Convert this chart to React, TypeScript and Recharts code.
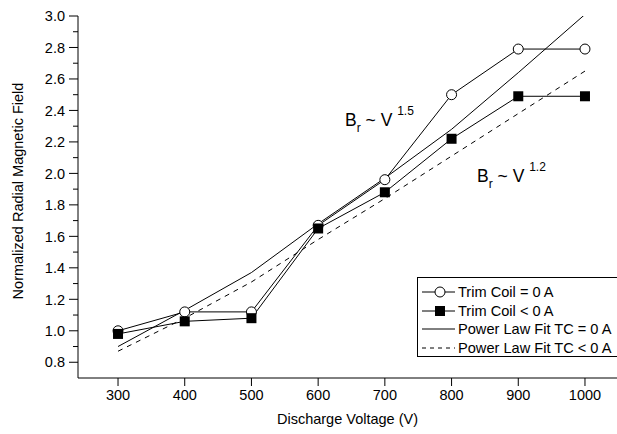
import { Legend, Line, LineChart, XAxis, YAxis } from "recharts";

// Discharge voltage (V) at each measurement
const voltage = [300, 400, 500, 600, 700, 800, 900, 1000];
// Normalized radial field, trim coil off and trim coil negative
const trimCoilZero = [1.0, 1.12, 1.12, 1.67, 1.96, 2.5, 2.79, 2.79];
const trimCoilNeg = [0.98, 1.06, 1.08, 1.65, 1.88, 2.22, 2.49, 2.49];
// Power law fits evaluated at the same voltages
const fitZero = [0.9, 1.13, 1.37, 1.68, 1.97, 2.28, 2.64, 3.01];
const fitNeg = [0.87, 1.08, 1.31, 1.58, 1.84, 2.11, 2.38, 2.65];

const xTicks = [300, 400, 500, 600, 700, 800, 900, 1000];
const yTicks = [
  0.8, 0.9, 1.0, 1.1, 1.2, 1.3, 1.4, 1.5, 1.6, 1.7, 1.8, 1.9, 2.0, 2.1, 2.2, 2.3, 2.4, 2.5, 2.6,
  2.7, 2.8, 2.9, 3.0,
];

const rows = voltage.map((v, i) => ({
  v,
  tc0: trimCoilZero[i],
  tcNeg: trimCoilNeg[i],
  fit0: fitZero[i],
  fitNeg: fitNeg[i],
}));

const FONT = "'Liberation Sans', Arial, sans-serif";

function YTick(props: any) {
  const { x, y, payload } = props;
  const major = Math.round(payload.value * 10) % 2 === 0;
  return (
    <g>
      <line x1={major ? x + 4 : x + 8} x2={x + 13} y1={y} y2={y} stroke="#000" strokeWidth={1} />
      {major ? (
        <text x={x} y={y} dy="0.36em" textAnchor="end" fontSize={14.5} fontFamily={FONT} fill="#000">
          {payload.value.toFixed(1)}
        </text>
      ) : null}
    </g>
  );
}

function SquareDot(props: any) {
  const { cx, cy, index } = props;
  if (cx == null || cy == null) return null;
  return <rect key={`sq-${index}`} x={cx - 5} y={cy - 5} width={10} height={10} fill="#000" />;
}

function LegendBox() {
  const items = [
    { label: "Trim Coil = 0 A", marker: "circle", dash: undefined },
    { label: "Trim Coil < 0 A", marker: "square", dash: undefined },
    { label: "Power Law Fit TC = 0 A", marker: null, dash: undefined },
    { label: "Power Law Fit TC < 0 A", marker: null, dash: "4 4" },
  ];
  return (
    <div
      style={{
        boxSizing: "border-box",
        width: 215,
        height: 80,
        border: "1px solid #000",
        background: "#fff",
        paddingTop: 5,
        fontFamily: FONT,
        fontSize: 14.6,
        color: "#000",
      }}
    >
      {items.map((it) => (
        <div key={it.label} style={{ height: 18.5, display: "flex", alignItems: "center", whiteSpace: "nowrap" }}>
          <svg width={37} height={14} style={{ marginLeft: 3 }}>
            <line x1={1} x2={34} y1={7} y2={7} stroke="#000" strokeWidth={1} strokeDasharray={it.dash} />
            {it.marker === "circle" ? <circle cx={19} cy={7} r={5} fill="#fff" stroke="#000" /> : null}
            {it.marker === "square" ? <rect x={14} y={2} width={10} height={10} fill="#000" /> : null}
          </svg>
          <span>{it.label}</span>
        </div>
      ))}
    </div>
  );
}

export default function App() {
  return (
    <div
      style={{
        position: "absolute",
        left: 0,
        top: 0,
        width: 617,
        height: 434,
        overflow: "hidden",
        background: "#fff",
      }}
    >
      <LineChart width={617} height={434} data={rows} margin={{ top: 16, right: 0, bottom: 0, left: 0 }}>
        <XAxis
          dataKey="v"
          type="number"
          domain={[240, 1048]}
          ticks={xTicks}
          allowDataOverflow
          height={56}
          axisLine={{ stroke: "#000" }}
          tickLine={{ stroke: "#000" }}
          tickSize={8}
          tickMargin={4}
          tick={{ fill: "#000", fontSize: 14.5, fontFamily: FONT }}
          label={{
            value: "Discharge Voltage (V)",
            position: "insideBottom",
            offset: 10,
            style: { fill: "#000", fontSize: 14.5, fontFamily: FONT },
          }}
        />
        <YAxis
          type="number"
          domain={[0.7, 3.0]}
          ticks={yTicks}
          allowDataOverflow
          width={78}
          axisLine={{ stroke: "#000" }}
          tickLine={false}
          tickSize={9}
          tickMargin={4}
          tick={<YTick />}
          interval={0}
        />
        <Line
          dataKey="fit0"
          type="linear"
          stroke="#000"
          strokeWidth={1}
          dot={false}
          isAnimationActive={false}
        />
        <Line
          dataKey="fitNeg"
          type="linear"
          stroke="#000"
          strokeWidth={1}
          strokeDasharray="5 5"
          dot={false}
          isAnimationActive={false}
        />
        <Line
          dataKey="tc0"
          type="linear"
          stroke="#000"
          strokeWidth={1}
          dot={{ r: 5, fill: "#fff", stroke: "#000", strokeWidth: 1 }}
          isAnimationActive={false}
        />
        <Line
          dataKey="tcNeg"
          type="linear"
          stroke="#000"
          strokeWidth={1}
          dot={<SquareDot />}
          isAnimationActive={false}
        />
        <Legend
          layout="horizontal"
          align="center"
          verticalAlign="middle"
          wrapperStyle={{ left: 417, top: 277, width: 215, height: 80 }}
          content={() => <LegendBox />}
        />
      </LineChart>
      <svg
        width={617}
        height={434}
        style={{ position: "absolute", left: 0, top: 0, pointerEvents: "none" }}
        fontFamily={FONT}
      >
        <text
          transform="translate(23 191) rotate(-90)"
          textAnchor="middle"
          fontSize={14.5}
          fill="#000"
        >
          Normalized Radial Magnetic Field
        </text>
        <text x={345} y={126} fontSize={17.5} fill="#000" style={{ whiteSpace: "pre" }}>
          B<tspan fontSize={12} dy={6}>r</tspan>
          <tspan dy={-6}> ~ V </tspan>
          <tspan fontSize={12} dy={-11}>1.5</tspan>
        </text>
        <text x={477} y={182} fontSize={17.5} fill="#000" style={{ whiteSpace: "pre" }}>
          B<tspan fontSize={12} dy={6}>r</tspan>
          <tspan dy={-6}> ~ V </tspan>
          <tspan fontSize={12} dy={-11}>1.2</tspan>
        </text>
      </svg>
    </div>
  );
}
